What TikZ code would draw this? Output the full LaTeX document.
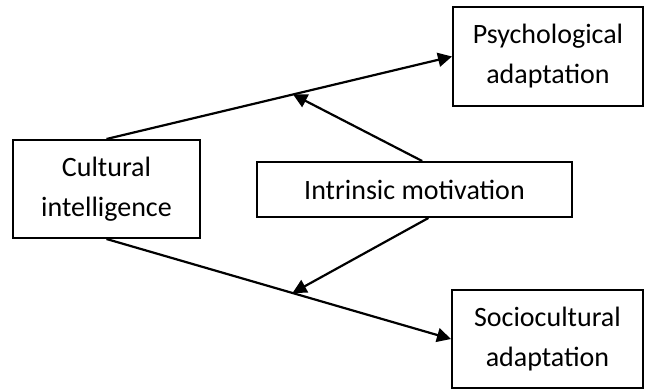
\documentclass[tikz,border=0pt]{standalone}
\usepackage{fontspec}
\setmainfont{Carlito}
\usetikzlibrary{arrows.meta, positioning, calc}

\begin{document}
\begin{tikzpicture}[x=0.5pt, y=-0.5pt, >={Triangle[length=7pt, width=7pt]},
        box/.style={draw, rectangle, line width=1pt, align=center, inner sep=0pt, font=\fontsize{14}{20}\selectfont},
        link/.style={->, line width=1.1pt}]
        \useasboundingbox (0,0) rectangle (645,390);

        \node[box, minimum width=93.5pt, minimum height=49pt] (culture) at (106.5,189) {Cultural \\ intelligence};
        \node[box, minimum width=157.5pt, minimum height=27.5pt] (motiv) at (414.5,189.5) {Intrinsic motivation};
        \node[box, minimum width=95pt, minimum height=49.5pt] (psych) at (548,56.5) {Psychological \\ adaptation};
        \node[box, minimum width=95.5pt, minimum height=49pt] (socio) at (547.5,339) {Sociocultural \\ adaptation};

        \draw[link] (culture.north) -- coordinate[pos=0.54] (upmid) (psych.west);
        \draw[link] (culture.south) -- coordinate[pos=0.54] (lowmid) (socio.west);

        \draw[link] (motiv.75) -- (upmid);
        \draw[link] (motiv.296) -- (lowmid);
    \end{tikzpicture}
\end{document}
